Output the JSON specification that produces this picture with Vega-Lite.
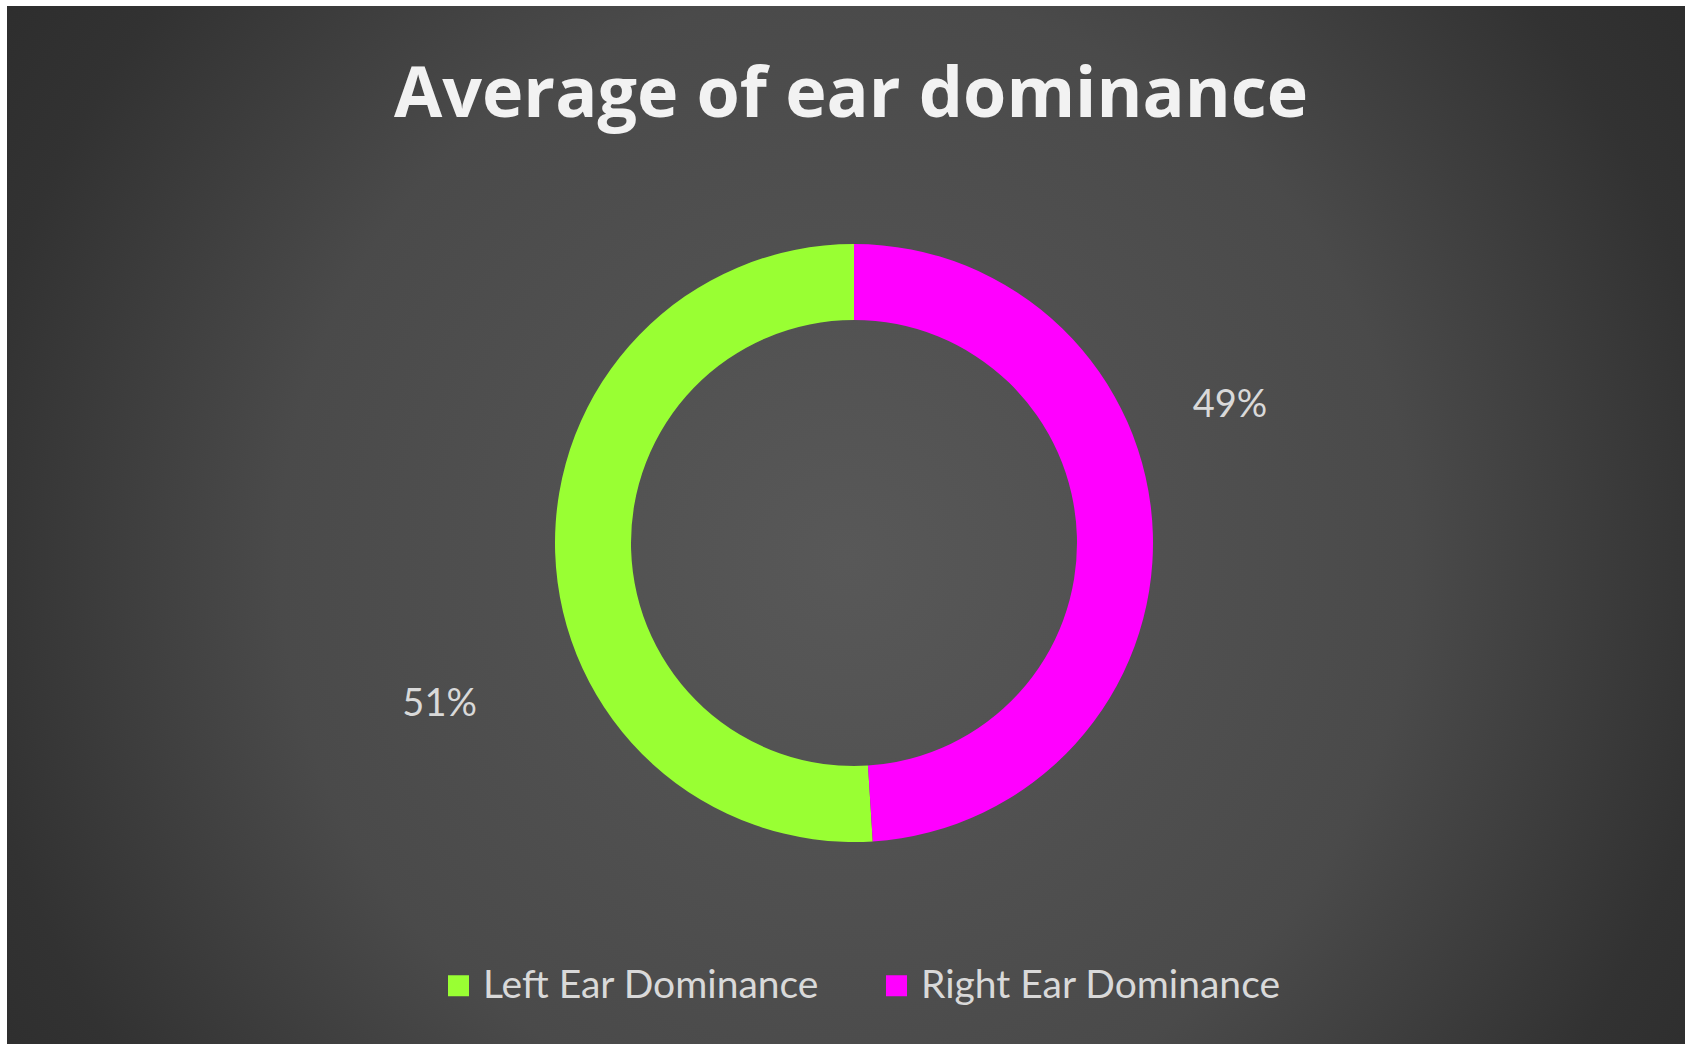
{
  "$schema": "https://vega.github.io/schema/vega-lite/v6.json",
  "width": 1678,
  "height": 1038,
  "autosize": {"type": "none"},
  "padding": {"left": 7, "top": 6, "right": 0, "bottom": 0},
  "background": "#ffffff",
  "config": {"view": {"stroke": null}},
  "title": {
    "text": "Average of ear dominance",
    "font": "Open Sans",
    "fontSize": 70,
    "fontWeight": "bold",
    "color": "#f2f2f2",
    "anchor": "middle",
    "baseline": "alphabetic",
    "offset": -181,
    "dx": 5
  },
  "data": {
    "values": [
      {"category": "Left Ear Dominance", "share": 0.51},
      {"category": "Right Ear Dominance", "share": 0.49}
    ]
  },
  "layer": [
    {
      "mark": {
        "type": "rect",
        "fill": {
          "gradient": "radial",
          "x1": 0.5, "y1": 0.52, "r1": 0,
          "x2": 0.5, "y2": 0.52, "r2": 0.75,
          "stops": [
            {"offset": 0, "color": "#585858"},
            {"offset": 0.45, "color": "#4a4a4a"},
            {"offset": 0.7, "color": "#323232"},
            {"offset": 1, "color": "#252525"}
          ]
        }
      },
      "encoding": {}
    },
    {
      "mark": {"type": "arc", "outerRadius": 299, "innerRadius": 223, "xOffset": 8, "yOffset": 18},
      "encoding": {
        "theta": {"field": "share", "type": "quantitative", "stack": true},
        "order": {"field": "category", "sort": "descending"},
        "color": {
          "field": "category",
          "type": "nominal",
          "scale": {"domain": ["Left Ear Dominance", "Right Ear Dominance"], "range": ["#99ff33", "#ff00ff"]},
          "legend": {
            "orient": "none",
            "legendX": 432,
            "legendY": 960,
            "direction": "horizontal",
            "title": null,
            "symbolType": "square",
            "symbolSize": 441,
            "symbolStrokeWidth": 0,
            "labelFont": "Lato",
            "labelFontSize": 39,
            "labelColor": "#d9d9d9",
            "labelLimit": 0,
            "labelOffset": 5,
            "columnPadding": 57
          }
        }
      }
    },
    {
      "mark": {
        "type": "text",
        "radius": {"expr": "datum.category === 'Left Ear Dominance' ? 443 : 402"},
        "thetaOffset": -0.33,
        "xOffset": 8,
        "yOffset": 18,
        "dy": 5,
        "font": "Lato",
        "fontSize": 38,
        "fill": "#d9d9d9"
      },
      "encoding": {
        "theta": {"field": "share", "type": "quantitative", "stack": true},
        "order": {"field": "category", "sort": "descending"},
        "text": {"field": "share", "type": "quantitative", "format": ".0%"}
      }
    }
  ]
}
